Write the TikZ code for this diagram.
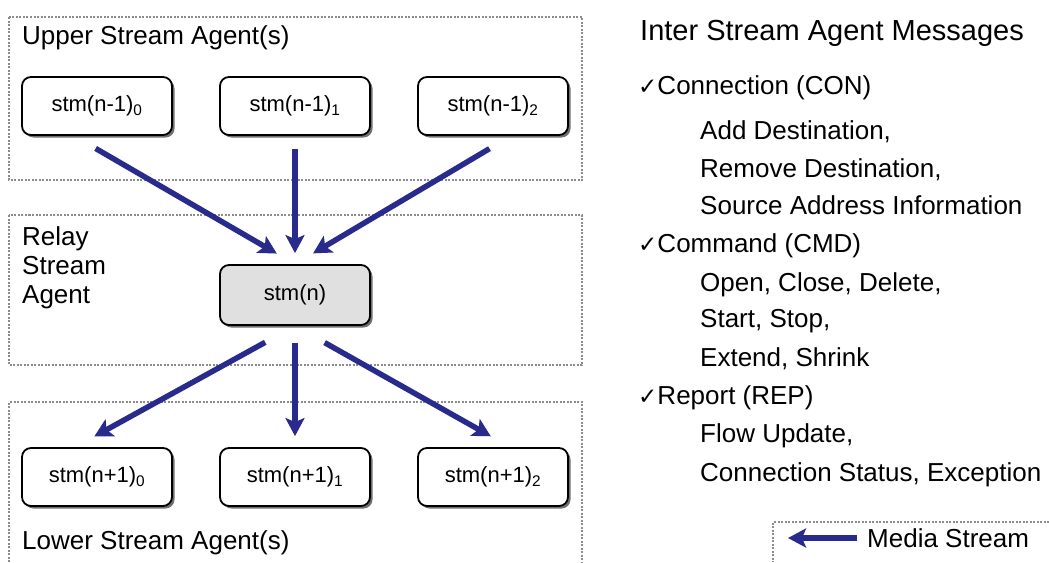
\documentclass[tikz,border=0pt]{standalone}
\usepackage{fontspec}
\setmainfont{Liberation Sans}
\newfontfamily\checkfont{DejaVu Sans}
\usetikzlibrary{arrows.meta,shadows}
\definecolor{streamblue}{RGB}{40,42,140}
\tikzset{
  agent/.style={draw, line width=1.8pt, rounded corners=9pt, fill=white,
    minimum width=150pt, minimum height=58pt, inner sep=0pt,
    font=\fontsize{22}{26}\selectfont,
    drop shadow={shadow xshift=2.5pt, shadow yshift=-2.5pt, fill=black!70, opacity=0.8}},
  relaybox/.style={agent, fill=black!12, minimum height=60pt},
  group/.style={draw=black!45, line width=1.3pt, dash pattern=on 2pt off 1.5pt},
  stream/.style={-{Stealth[length=18pt, width=19pt, inset=4pt]}, color=streamblue, line width=5.5pt},
  lbl/.style={anchor=base west, inner sep=0pt, font=\fontsize{26}{30}\selectfont},
}
\newcommand{\tick}{{\checkfont\fontsize{23}{26}\selectfont ✓}}
\begin{document}
\begin{tikzpicture}[x=1pt, y=-1pt]
  \useasboundingbox (0,0) rectangle (1049,562);
  % groups
  \draw [group] (9,17) rectangle (582,180);
  \draw [group] (9,215) rectangle (582,365);
  \draw [group] (9,562) -- (9,402) -- (582,402) -- (582,562);
  \node [lbl] (uplbl) at (22,44) {Upper Stream Agent(s)};
  \node [lbl, anchor=north west, align=left, font=\fontsize{26}{29}\selectfont] (relaylbl) at (22,226) {Relay\\Stream\\Agent};
  \node [lbl] (lowlbl) at (22,549) {Lower Stream Agent(s)};
  % agents
  \node [agent] (up0) at (97,106) {stm(n-1)\textsubscript{0}};
  \node [agent] (up1) at (295,106) {stm(n-1)\textsubscript{1}};
  \node [agent] (up2) at (493,106) {stm(n-1)\textsubscript{2}};
  \node [relaybox] (relay) at (295,295) {stm(n)};
  \node [agent] (low0) at (97,477) {stm(n+1)\textsubscript{0}};
  \node [agent] (low1) at (295,477) {stm(n+1)\textsubscript{1}};
  \node [agent] (low2) at (493,477) {stm(n+1)\textsubscript{2}};
  % media streams
  \draw [stream, shorten <=25pt, shorten >=21pt] ([xshift=-23pt]up0.south) -- (relay.north);
  \draw [stream, shorten <=13pt, shorten >=11pt] (up1.south) -- (relay.north);
  \draw [stream, shorten <=25pt, shorten >=21pt] ([xshift=18pt]up2.south) -- (relay.north);
  \draw [stream, shorten <=34pt, shorten >=22pt] (relay.south) -- ([xshift=-22pt]low0.north);
  \draw [stream, shorten <=17pt, shorten >=11pt] (relay.south) -- (low1.north);
  \draw [stream, shorten <=34pt, shorten >=22pt] (relay.south) -- ([xshift=17pt]low2.north);
  % messages
  \node [lbl, font=\fontsize{29}{33}\selectfont] (msgtitle) at (640,40) {Inter Stream Agent Messages};
  \node [lbl] (con) at (638,94) {\tick Connection (CON)};
  \node [lbl] (con1) at (700,139) {Add Destination,};
  \node [lbl] (con2) at (700,177) {Remove Destination,};
  \node [lbl] (con3) at (700,214) {Source Address Information};
  \node [lbl] (cmd) at (638,252) {\tick Command (CMD)};
  \node [lbl] (cmd1) at (700,291) {Open, Close, Delete,};
  \node [lbl] (cmd2) at (700,327) {Start, Stop,};
  \node [lbl] (cmd3) at (700,366) {Extend, Shrink};
  \node [lbl] (rep) at (638,404) {\tick Report (REP)};
  \node [lbl] (rep1) at (700,442) {Flow Update,};
  \node [lbl] (rep2) at (700,481) {Connection Status, Exception};
  % legend
  \draw [group] (1049,522) -- (773,522) -- (773,562);
  \node [lbl] (legtext) at (867,547) {Media Stream};
  \coordinate (legtip) at (788,538);
  \draw [stream, line width=6pt, shorten <=10pt] (legtext.west |- legtip) -- (legtip);
\end{tikzpicture}
\end{document}
